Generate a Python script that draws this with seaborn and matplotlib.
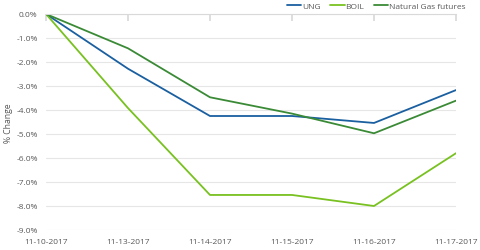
import matplotlib
matplotlib.use("Agg")
import matplotlib.pyplot as plt
import seaborn as sns
import pandas as pd

dates = ["11-10-2017", "11-13-2017", "11-14-2017", "11-15-2017", "11-16-2017", "11-17-2017"]
ung = [0.0, -2.28, -4.25, -4.25, -4.54, -3.17]
boil = [0.0, -3.92, -7.54, -7.54, -8.0, -5.80]
ngf = [0.0, -1.43, -3.47, -4.15, -4.97, -3.61]
y_ticks = [0, -1, -2, -3, -4, -5, -6, -7, -8, -9]

sns.set_theme(style="white")
plt.rcParams['font.family'] = ['Open Sans', 'DejaVu Sans']

df = pd.DataFrame({"Date": dates, "UNG": ung, "BOIL": boil, "Natural Gas futures": ngf})
long = df.melt(id_vars="Date", var_name="Series", value_name="Change")
long["x"] = long["Date"].map({d: i for i, d in enumerate(dates)})

fig = plt.figure(figsize=(4.8, 2.51), dpi=100)
ax = fig.add_axes([46/480, 1 - 231/251, 410/480, 216/251])

palette = {"UNG": "#1a5fa0", "BOIL": "#78c120", "Natural Gas futures": "#3a8a36"}
sns.lineplot(data=long, x="x", y="Change", hue="Series", palette=palette, ax=ax,
             linewidth=1.3, legend=True)

ax.set_xlim(0, len(dates) - 1)
ax.set_ylim(-9, 0)
ax.set_yticks(y_ticks)
ax.set_yticklabels([f"{v:.1f}%" for v in y_ticks])
ax.set_xticks(range(len(dates)))
ax.set_xticklabels(dates)
ax.grid(axis="y", color="#e6e6e6", linewidth=0.8)
ax.grid(axis="x", visible=False)
for s in ["left", "right", "bottom"]:
    ax.spines[s].set_visible(False)
ax.spines["top"].set_color("#d9d9d9")
ax.spines["top"].set_linewidth(0.8)
ax.tick_params(axis="x", top=True, bottom=False, direction="in", length=5,
               color="#d9d9d9", labeltop=False, labelbottom=True,
               labelsize=6.0, labelcolor="#595959", pad=6)
ax.tick_params(axis="y", left=False, length=0, labelsize=6.0, labelcolor="#595959", pad=6)
ax.set_xlabel("")
ax.set_ylabel("% Change", fontsize=6.2, color="#595959")
ax.yaxis.set_label_coords(-0.080, 0.5)

handles, labels = ax.get_legend_handles_labels()
ax.legend(handles, labels, loc="upper right", bbox_to_anchor=(1.032, 1.07), ncol=3,
          frameon=False, fontsize=6.0, handlelength=1.7, handletextpad=0.1,
          columnspacing=1.2, labelcolor="#595959", borderaxespad=0)

fig.savefig("out.png", dpi=100)
